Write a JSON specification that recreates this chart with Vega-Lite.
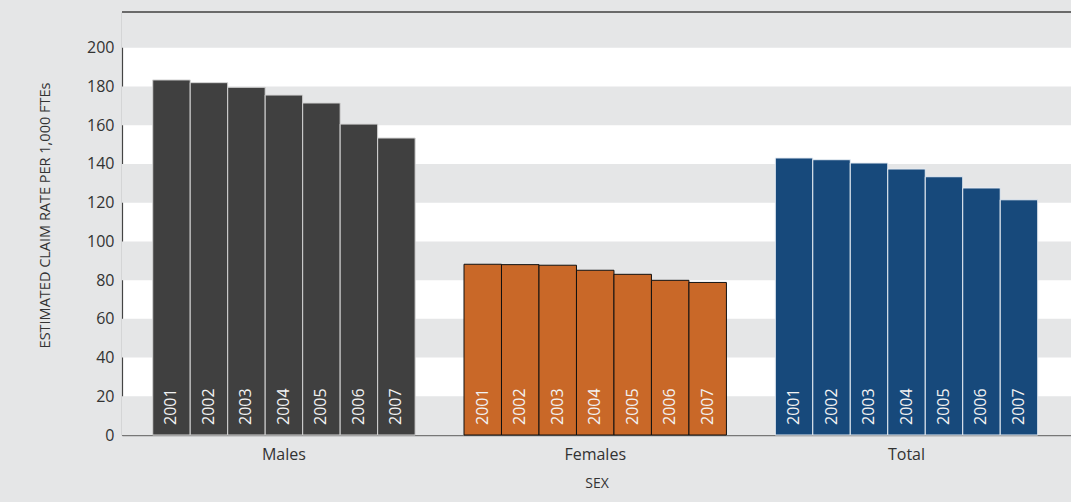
{
  "$schema": "https://vega.github.io/schema/vega-lite/v6.json",
  "width": 949,
  "height": 423,
  "autosize": "none",
  "padding": {"left": 122, "top": 12, "right": 0, "bottom": 67},
  "background": "#e5e6e7",
  "config": {
    "view": {"fill": "#ffffff", "stroke": null},
    "font": "Open Sans"
  },
  "datasets": {
    "rates": [
      {"sex": "Males", "year": "2001", "rate": 183.4},
      {"sex": "Males", "year": "2002", "rate": 182.0},
      {"sex": "Males", "year": "2003", "rate": 179.6},
      {"sex": "Males", "year": "2004", "rate": 175.6},
      {"sex": "Males", "year": "2005", "rate": 171.5},
      {"sex": "Males", "year": "2006", "rate": 160.6},
      {"sex": "Males", "year": "2007", "rate": 153.4},
      {"sex": "Females", "year": "2001", "rate": 88.2},
      {"sex": "Females", "year": "2002", "rate": 88.0},
      {"sex": "Females", "year": "2003", "rate": 87.7},
      {"sex": "Females", "year": "2004", "rate": 85.1},
      {"sex": "Females", "year": "2005", "rate": 83.0},
      {"sex": "Females", "year": "2006", "rate": 79.9},
      {"sex": "Females", "year": "2007", "rate": 78.8},
      {"sex": "Total", "year": "2001", "rate": 143.1},
      {"sex": "Total", "year": "2002", "rate": 142.2},
      {"sex": "Total", "year": "2003", "rate": 140.5},
      {"sex": "Total", "year": "2004", "rate": 137.4},
      {"sex": "Total", "year": "2005", "rate": 133.4},
      {"sex": "Total", "year": "2006", "rate": 127.6},
      {"sex": "Total", "year": "2007", "rate": 121.5}
    ],
    "bands": [
      {"lo": 0, "hi": 20},
      {"lo": 40, "hi": 60},
      {"lo": 80, "hi": 100},
      {"lo": 120, "hi": 140},
      {"lo": 160, "hi": 180},
      {"lo": 200, "hi": 218.5}
    ],
    "frame": [
      {"edge": 218.5}
    ]
  },
  "layer": [
    {
      "data": {"name": "bands"},
      "mark": {"type": "rect", "color": "#e5e6e7"},
      "encoding": {
        "y": {"field": "lo", "type": "quantitative", "scale": {"domain": [0, 218.5], "nice": false}},
        "y2": {"field": "hi"}
      }
    },
    {
      "data": {"name": "rates"},
      "mark": {"type": "bar", "strokeWidth": 1},
      "encoding": {
        "x": {
          "field": "sex",
          "type": "nominal",
          "sort": ["Males", "Females", "Total"],
          "scale": {"paddingInner": 0.157, "paddingOuter": 0.1028, "align": 0.48},
          "axis": {
            "title": "SEX",
            "titleFont": "Open Sans",
            "titleFontSize": 14,
            "titleFontWeight": "normal",
            "titleColor": "#333333",
            "titlePadding": 14,
            "labelAngle": 0,
            "labelFont": "Open Sans",
            "labelFontSize": 16,
            "labelColor": "#333333",
            "labelPadding": 11,
            "ticks": false,
            "domainColor": "#777777",
            "domainWidth": 1.5
          }
        },
        "xOffset": {
          "field": "year",
          "type": "ordinal",
          "scale": {"paddingInner": 0, "paddingOuter": 0}
        },
        "y": {
          "field": "rate",
          "type": "quantitative",
          "scale": {"domain": [0, 218.5], "nice": false},
          "axis": {
            "title": "ESTIMATED CLAIM RATE PER 1,000 FTEs",
            "titleFont": "Open Sans",
            "titleFontSize": 14.5,
            "titleFontWeight": "normal",
            "titleColor": "#333333",
            "titleX": -77,
            "titleY": 203,
            "titleBaseline": "middle",
            "values": [0, 20, 40, 60, 80, 100, 120, 140, 160, 180, 200],
            "grid": false,
            "ticks": false,
            "labelFont": "Open Sans",
            "labelFontSize": 16,
            "labelColor": "#333333",
            "labelPadding": 8,
            "domainColor": "#444444",
            "domainWidth": 1.2
          }
        },
        "color": {
          "field": "sex",
          "type": "nominal",
          "scale": {"domain": ["Males", "Females", "Total"], "range": ["#404040", "#c96828", "#17497b"]},
          "legend": null
        },
        "stroke": {
          "field": "sex",
          "type": "nominal",
          "scale": {"domain": ["Males", "Females", "Total"], "range": ["#d4d4d4", "#111111", "#e6ecf3"]},
          "legend": null
        }
      }
    },
    {
      "data": {"name": "rates"},
      "mark": {
        "type": "text",
        "angle": 270,
        "align": "left",
        "baseline": "middle",
        "dx": 10,
        "font": "Open Sans",
        "fontSize": 16,
        "color": "#f2f2f2"
      },
      "encoding": {
        "x": {"field": "sex", "type": "nominal", "sort": ["Males", "Females", "Total"]},
        "xOffset": {"field": "year", "type": "ordinal"},
        "y": {"datum": 0, "type": "quantitative"},
        "text": {"field": "year"}
      }
    },
    {
      "data": {"name": "frame"},
      "mark": {"type": "rule", "color": "#6a6a6a", "strokeWidth": 2},
      "encoding": {
        "y": {"field": "edge", "type": "quantitative"}
      }
    }
  ]
}
